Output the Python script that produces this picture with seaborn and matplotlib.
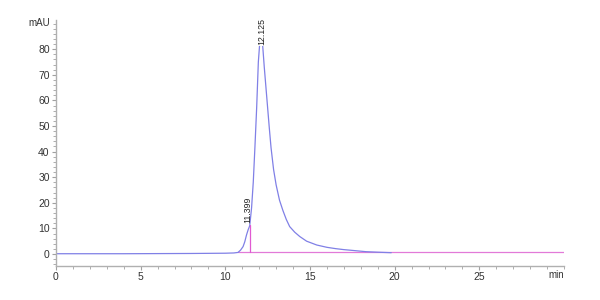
import matplotlib
matplotlib.use("Agg")
import matplotlib.pyplot as plt
from matplotlib.ticker import MultipleLocator
import seaborn as sns
import pandas as pd

# Chromatogram trace (min, mAU)
time_min = [0, 2, 4, 6, 8, 10, 10.5, 10.75, 10.9, 11.05, 11.15, 11.25, 11.35, 11.44,
            11.55, 11.65, 11.75, 11.85, 11.95, 12.05, 12.125, 12.2, 12.3, 12.4, 12.5,
            12.6, 12.7, 12.85, 13.0, 13.2, 13.4, 13.6, 13.8, 14.1, 14.4, 14.8, 15.4,
            16.0, 16.5, 17.0, 17.5, 18.3, 19.0, 19.8]
signal_mau = [0.1, 0.1, 0.1, 0.15, 0.2, 0.3, 0.4, 0.6, 1.5, 2.9, 4.8, 7.4, 9.5, 11.0,
              18, 28, 42, 57, 75, 84, 85.5, 82, 73, 65, 57,
              49, 41.5, 33, 27, 21, 17, 13.5, 10.7, 8.5, 6.8, 5.0, 3.5,
              2.6, 2.1, 1.7, 1.4, 0.9, 0.7, 0.5]

# Integration baseline and peak annotations
baseline_t = [10.75, 30]
baseline_v = [0.6, 0.6]
peak_times = [11.399, 12.125]
peak_heights = [11.2, 85.5]
peak_labels = ["11.399", "12.125"]

x_ticks = [0, 5, 10, 15, 20, 25]
y_ticks = [0, 10, 20, 30, 40, 50, 60, 70, 80]

sns.set_theme(style="white")
plt.rcParams['font.family'] = ['Liberation Sans', 'DejaVu Sans']

fig = plt.figure(figsize=(6, 3), dpi=100)
ax = fig.add_axes([0.0933, 0.1133, 0.8467, 0.82])

df = pd.DataFrame({"t": time_min, "v": signal_mau})
df_base = pd.DataFrame({"t": baseline_t, "v": baseline_v})

sns.lineplot(data=df_base, x="t", y="v", ax=ax, color="#e27ad8", linewidth=0.9)
sns.lineplot(data=df, x="t", y="v", ax=ax, color="#8080e6", linewidth=0.9)

# drop line at shoulder
ax.plot([peak_times[0] + 0.03, peak_times[0] + 0.03], [baseline_v[0], peak_heights[0]],
        color="#e05ad2", linewidth=0.9)

ax.text(peak_times[0] - 0.06, peak_heights[0] + 1.0, peak_labels[0], rotation=90,
        ha="center", va="bottom", fontsize=6.3, color="#222222")
ax.text(peak_times[1], 81.5, peak_labels[1], rotation=90,
        ha="center", va="bottom", fontsize=6.3, color="#222222",
        bbox=dict(facecolor="white", edgecolor="none", pad=0.3))

ax.set_xlim(0, 30)
ax.set_ylim(-4.7, 91.4)
ax.set_xticks(x_ticks)
ax.set_yticks(y_ticks)
ax.xaxis.set_minor_locator(MultipleLocator(1))
ax.yaxis.set_minor_locator(MultipleLocator(2))
ax.set_xlabel("")
ax.set_ylabel("")

for s in ["top", "right"]:
    ax.spines[s].set_visible(False)
for s in ["left", "bottom"]:
    ax.spines[s].set_color("#b0b0b0")
    ax.spines[s].set_linewidth(1.0)

ax.tick_params(axis="both", which="major", direction="out", length=3, width=0.8,
               color="#a0a0a0", labelsize=7.5, labelcolor="#333333", pad=1.5,
               bottom=True, left=True)
ax.tick_params(axis="both", which="minor", direction="out", length=2, width=0.6,
               color="#a0a0a0", bottom=True, left=True)

ax.text(-0.012, 90.2, "mAU", transform=ax.get_yaxis_transform(), ha="right",
        va="center", fontsize=7, color="#333333")
ax.text(30, -0.037, "min", transform=ax.get_xaxis_transform(), ha="right",
        va="center", fontsize=7, color="#333333")

fig.savefig("out.png", dpi=100, facecolor="white")
